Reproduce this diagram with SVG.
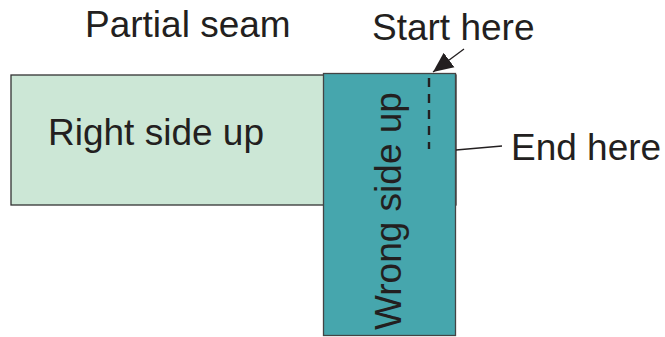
<svg xmlns="http://www.w3.org/2000/svg" width="665" height="337" viewBox="0 0 665 337">
<style>
text{font-family:"Liberation Sans",Arial,sans-serif;font-size:37px;fill:#231f20}
.ln{stroke:#231f20;stroke-width:1.3;fill:none}
</style>
<defs>
<marker id="ah" markerWidth="22" markerHeight="20" refX="20" refY="9" orient="auto" markerUnits="userSpaceOnUse" viewBox="0 0 22 18"><path d="M0,0 L20,9 L0,18 Z" fill="#231f20"/></marker>
</defs>
<rect width="665" height="337" fill="#fff"/>
<g id="right-side">
<rect x="11" y="75" width="445" height="130" fill="#cce7d6" stroke="#333" stroke-width="1.3"/>
<text x="48" y="145">Right side up</text>
</g>
<g id="wrong-side">
<rect x="323.5" y="73.5" width="132" height="262" fill="#46a6ad" stroke="#444" stroke-width="1.3"/>
<text transform="translate(401,330) rotate(-90)">Wrong side up</text>
</g>
<g id="seam">
<line x1="429" y1="78" x2="429" y2="149" stroke="#231f20" stroke-width="2.4" stroke-dasharray="9,7"/>
</g>
<g id="labels">
<text x="85" y="37">Partial seam</text>
<text x="372" y="40">Start here</text>
<text x="511" y="160">End here</text>
</g>
<g id="connectors">
<line class="ln" x1="464" y1="49" x2="433" y2="72" marker-end="url(#ah)"/>
<line class="ln" x1="456" y1="150" x2="502" y2="146"/>
</g>
</svg>
